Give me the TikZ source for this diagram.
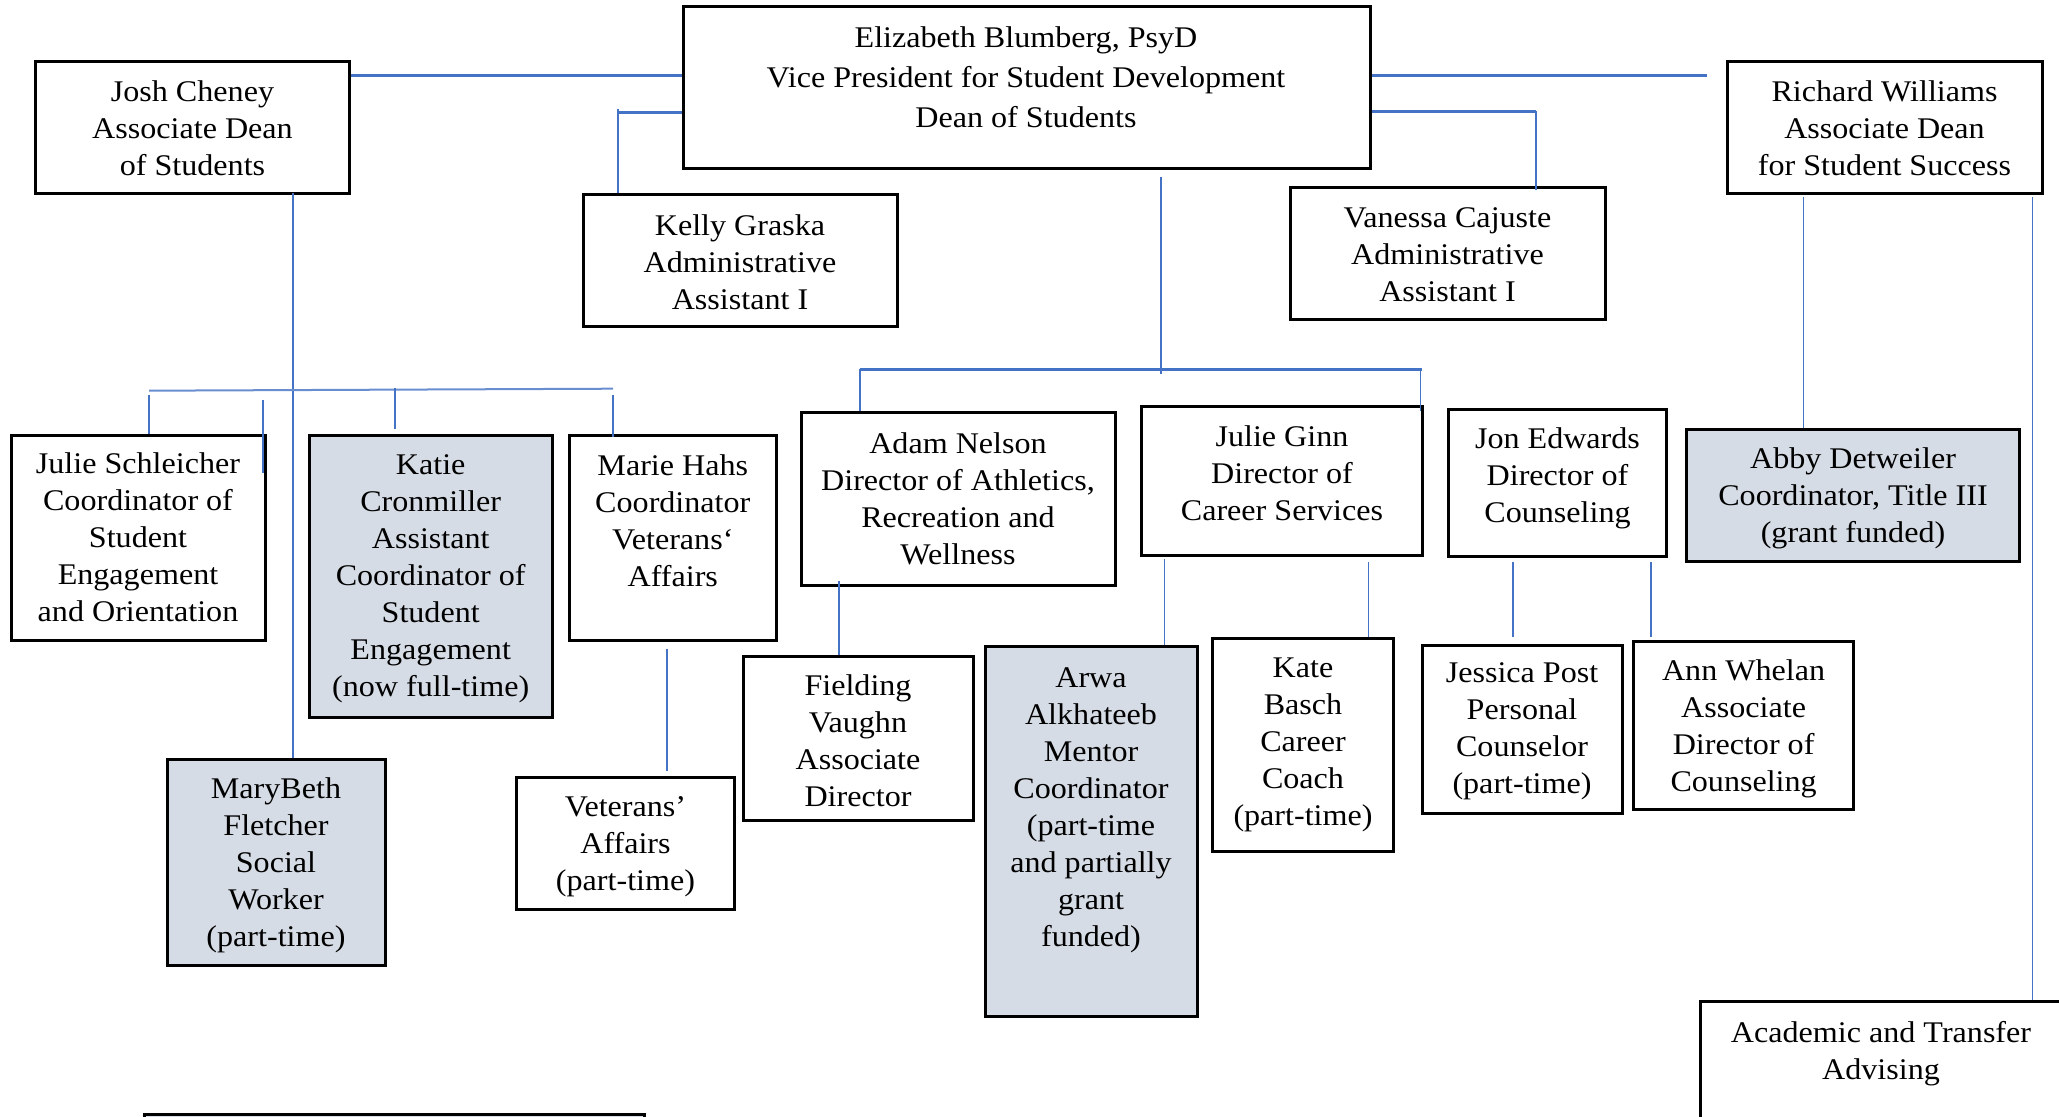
\documentclass[tikz,border=0pt]{standalone}
\usepackage{fontspec}
\setmainfont{Liberation Serif}[FakeStretch=1.07]
\usetikzlibrary{fit}
\definecolor{conn}{HTML}{4472C4}
\definecolor{boxfill}{HTML}{D6DCE5}
\tikzset{
  box/.style={draw=black, line width=1.5pt, inner sep=0pt, rectangle},
  fbox/.style={box, fill=boxfill},
  txt/.style={align=center, inner sep=0pt, anchor=north, font=\fontsize{15}{18.5}\selectfont},
  wire/.style={draw=conn, line width=0.8pt},
  wirem/.style={draw=conn, line width=1pt},
  wiret/.style={draw=conn, line width=1.5pt},
}
\begin{document}
\begin{tikzpicture}[x=0.5pt,y=-0.5pt]
\useasboundingbox (0,0) rectangle (2059,1117);
\clip (0,0) rectangle (2059,1117);
% boxes
\node[box, fit={(683,7) (1370,169)}] (vp) {};
\node[txt, font=\fontsize{15}{20}\selectfont] (vpt) at (1026,26) {Elizabeth Blumberg, PsyD\\Vice President for Student Development\\Dean of Students};
\node[box, fit={(35.5,61.7) (349.5,193.3)}] (josh) {};
\node[txt] (josht) at (192.5,80) {Josh Cheney\\Associate Dean\\of Students};
\node[box, fit={(1727.5,61.7) (2042,193.3)}] (richard) {};
\node[txt] (richardt) at (1884.5,80.7) {Richard Williams\\Associate Dean\\for Student Success};
\node[box, fit={(583,194.7) (897.5,326.7)}] (kelly) {};
\node[txt] (kellyt) at (740,214) {Kelly Graska\\Administrative\\Assistant I};
\node[box, fit={(1290.5,188) (1605,320)}] (vanessa) {};
\node[txt] (vanessat) at (1447.5,207.3) {Vanessa Cajuste\\Administrative\\Assistant I};
\node[box, fit={(11,435) (265,640)}] (julies) {};
\node[txt] (juliest) at (138,452.3) {Julie Schleicher\\Coordinator of\\Student\\Engagement\\and Orientation};
\node[fbox, fit={(309,435) (552.5,717)}] (katie) {};
\node[txt] (katiet) at (430.7,454) {Katie\\Cronmiller\\Assistant\\Coordinator of\\Student\\Engagement\\(now full-time)};
\node[box, fit={(569,435) (776.6,640)}] (marie) {};
\node[txt] (mariet) at (672.8,454) {Marie Hahs\\Coordinator\\Veterans‘\\Affairs};
\node[box, fit={(801,412.7) (1115,585)}] (adam) {};
\node[txt] (adamt) at (958,432.3) {Adam Nelson\\Director of Athletics,\\Recreation and\\Wellness};
\node[box, fit={(1141.5,406.7) (1422.4,555)}] (ginn) {};
\node[txt] (ginnt) at (1282,425.7) {Julie Ginn\\Director of\\Career Services};
\node[box, fit={(1448.6,409) (1666.5,556.7)}] (jon) {};
\node[txt] (jont) at (1557.5,427.3) {Jon Edwards\\Director of\\Counseling};
\node[fbox, fit={(1686.8,429) (2019,561)}] (abby) {};
\node[txt] (abbyt) at (1853,447.3) {Abby Detweiler\\Coordinator, Title III\\(grant funded)};
\node[box, fit={(743,656.7) (973,820.7)}] (fielding) {};
\node[txt] (fieldingt) at (858,674) {Fielding\\Vaughn\\Associate\\Director};
\node[fbox, fit={(985,646.7) (1197,1016.7)}] (arwa) {};
\node[txt] (arwat) at (1091,667.3) {Arwa\\Alkhateeb\\Mentor\\Coordinator\\(part-time\\and partially\\grant\\funded)};
\node[box, fit={(1212.4,638.7) (1393.5,851)}] (kate) {};
\node[txt] (katet) at (1303,657.3) {Kate\\Basch\\Career\\Coach\\(part-time)};
\node[box, fit={(1422.4,645) (1622,813.3)}] (jessica) {};
\node[txt] (jessicat) at (1522,662.3) {Jessica Post\\Personal\\Counselor\\(part-time)};
\node[box, fit={(1633.7,641) (1853.5,809.3)}] (ann) {};
\node[txt] (annt) at (1743.6,659.7) {Ann Whelan\\Associate\\Director of\\Counseling};
\node[box, fit={(516.4,777) (734.6,909)}] (veterans) {};
\node[txt] (veteranst) at (625.5,795.7) {Veterans’\\Affairs\\(part-time)};
\node[fbox, fit={(167,759) (385.7,965)}] (marybeth) {};
\node[txt] (marybetht) at (276,777.3) {MaryBeth\\Fletcher\\Social\\Worker\\(part-time)};
\node[box, fit={(1700.6,1001) (2062,1180)}] (academic) {};
\node[txt] (academict) at (1881,1020.7) {Academic and Transfer\\Advising};
\node[fbox, fit={(144.5,1114) (644,1180)}] (bottombox) {};
% helper coordinates
\coordinate (h1) at (0,76);
\coordinate (rwend) at (1706.6,76);
\coordinate (kc) at (618,112.7);
\coordinate (kctop) at (618,109);
\coordinate (vc) at (1536,111.7);
\coordinate (vctop) at (1536,111);
\coordinate (vpdown) at (1161,177);
\coordinate (midbar) at (1161,374);
\coordinate (barL) at (860,369);
\coordinate (barR) at (1422,369);
\coordinate (adamdrop) at (860,369);
\coordinate (ginndrop) at (1420.5,369);
\coordinate (joshbarL) at (149,390.7);
\coordinate (joshbarR) at (613,388.7);
\coordinate (jsA) at (149,395);
\coordinate (jsB) at (262.7,400);
\coordinate (jsBend) at (262.7,473);
\coordinate (kaA) at (395,388);
\coordinate (kaB) at (395,429);
\coordinate (maA) at (613,395);
\coordinate (maB) at (613,437);
\coordinate (mvA) at (667,649);
\coordinate (mvB) at (667,771);
\coordinate (afA) at (839,581);
\coordinate (afB) at (839,655);
\coordinate (gaA) at (1164.5,559);
\coordinate (gkA) at (1368.6,562);
\coordinate (gkB) at (1368.6,636.7);
\coordinate (jjA) at (1513,562);
\coordinate (jjB) at (1513,636.7);
\coordinate (jaA) at (1650.7,562);
\coordinate (jaB) at (1650.7,636.7);
\coordinate (raA) at (1803.6,197);
\coordinate (rcA) at (2032.6,197);
\coordinate (jmA) at (293,193.3);
% connectors
\draw[wiret] (josh.east |- h1) -- (vp.west |- h1);
\draw[wiret] (vp.east |- h1) -- (rwend);
\draw[wiret] (vp.west |- kc) -- (kc);
\draw[wirem] (kctop) -- (kelly.north -| kc);
\draw[wiret] (vp.east |- vc) -- (vc);
\draw[wirem] (vctop) -- ([yshift=-2pt]vanessa.north -| vc);
\draw[wire] (vpdown) -- (midbar);
\draw[wiret] (barL) -- (barR);
\draw[wire] (adamdrop) -- (adam.north -| adamdrop);
\draw[wire] (ginndrop) -- ([yshift=-3pt]ginn.north -| ginndrop);
\draw[wire] (jmA) -- (marybeth.north -| jmA);
\draw[wirem, draw=conn!80] (joshbarL) -- (joshbarR);
\draw[wire] (jsA) -- (julies.north -| jsA);
\draw[wirem] (jsB) -- (jsBend);
\draw[wire] (kaA) -- (kaB);
\draw[wire] (maA) -- (maB);
\draw[wire] (mvA) -- (mvB);
\draw[wire] (afA) -- (afB);
\draw[wire] (gaA) -- (arwa.north -| gaA);
\draw[wire] (gkA) -- (gkB);
\draw[wirem] (jjA) -- (jjB);
\draw[wire] (jaA) -- (jaB);
\draw[wire] (raA) -- (abby.north -| raA);
\draw[wire] (rcA) -- (academic.north -| rcA);
\end{tikzpicture}
\end{document}
